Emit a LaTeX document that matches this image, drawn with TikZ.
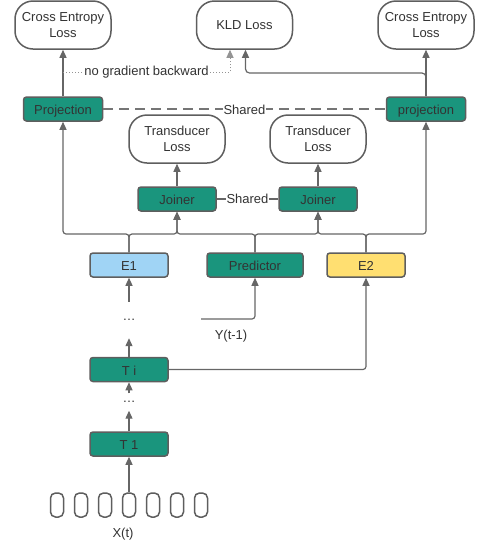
\documentclass[tikz,border=0pt]{standalone}
\usepackage{fontspec}
\setmainfont{Liberation Sans}
\usetikzlibrary{arrows.meta,calc}
\definecolor{teal1}{HTML}{1A957D}
\definecolor{bord}{HTML}{5E5E5E}
\definecolor{txt}{HTML}{333333}
\definecolor{lineg}{HTML}{666666}
\definecolor{e1blue}{HTML}{A0D4F5}
\definecolor{e2yel}{HTML}{FFDF71}
\tikzset{
  every node/.style={font=\fontsize{13}{16}\selectfont, text=txt},
  loss/.style={draw=bord, line width=1.5pt, fill=white, rounded corners=18pt, minimum width=96pt, minimum height=48pt, align=center, inner sep=0pt},
  gbox/.style={draw=bord, line width=1.5pt, fill=teal1, rounded corners=3pt, minimum width=78pt, minimum height=24pt, inner sep=0pt, text height=11.5pt, text depth=0pt},
  inbox/.style={draw=bord, line width=1.5pt, rounded corners=5pt, minimum width=13pt, minimum height=24pt, inner sep=0pt},
  dotsnode/.style={inner sep=0pt, minimum width=14pt},
  conn/.style={draw=lineg, line width=1.2pt},
  arr/.style={conn, -{Triangle[length=8pt,width=7pt]}},
  dotl/.style={draw=lineg!70, line width=1pt, dotted, -{Triangle[length=8pt,width=7pt]}},
  dashl/.style={draw=lineg!90, line width=1.5pt, dash pattern=on 10pt off 6pt},
  lbl/.style={fill=white, inner sep=1pt},
  plain/.style={inner sep=0pt},
}
\begin{document}
\begin{tikzpicture}[x=1pt,y=-1pt]
\useasboundingbox (0,0) rectangle (481,547);
% losses
\node[loss] (ce1) at (63,25) {Cross Entropy\\Loss};
\node[loss] (kld) at (244.5,25) {KLD Loss};
\node[loss] (ce2) at (426,25) {Cross Entropy\\Loss};
% projections
\node[gbox, minimum width=79pt] (proj1) at (63,109) {Projection};
\node[gbox, minimum width=79pt] (proj2) at (426,109) {projection};
% transducer losses
\node[loss] (tl1) at (177,139) {Transducer\\Loss};
\node[loss] (tl2) at (318,139) {Transducer\\Loss};
% joiners
\node[gbox] (j1) at (177,199) {Joiner};
\node[gbox] (j2) at (318,199) {Joiner};
% encoders / predictor
\node[gbox, fill=e1blue] (e1) at (129,265) {E1};
\node[gbox, minimum width=96pt] (pred) at (255,265) {Predictor};
\node[gbox, fill=e2yel] (e2) at (366,265) {E2};
% dots and layers
\node[dotsnode, minimum height=36pt] (d1) at (129,320) {…};
\node[gbox] (ti) at (129,369.5) {T i};
\node[dotsnode, minimum height=17pt] (d2) at (129,402) {…};
\node[gbox] (t1) at (129,444) {T 1};
% inputs
\foreach \i in {0,...,6} {
  \node[inbox] (x\i) at (57+24*\i,505) {};
}
\node[plain] (xlab) at (123,534) {X(t)};
\node[plain] (ylab) at (231,336) {Y(t-1)};
\coordinate (ystart) at (201,319);

% connectors top
\draw[arr] (proj1.north) -- (ce1.south);
\draw[arr] (proj2.north) -- (ce2.south);
\draw[arr, rounded corners=4pt] (proj2.north) -- (proj2.north |- 0,73) -| ([xshift=1pt]kld.south);
\coordinate (ng) at (230,72);
\draw[dotl] (proj1.north |- ng) -- node[lbl]{no gradient backward} (ng) -- (ng |- kld.south);
\draw[dashl] (proj1.east) -- node[lbl, yshift=-1pt]{Shared} (proj2.west);

% joiners
\draw[arr] (j1.north) -- (tl1.south);
\draw[arr] (j2.north) -- (tl2.south);
\draw[conn] (j1.east) -- node[lbl]{Shared} (j2.west);

% bus
\draw[arr, rounded corners=3pt] (e1.north) -- (e1.north |- 0,234) -| (proj1.south);
\draw[arr, rounded corners=3pt] (e1.north) -- (e1.north |- 0,234) -| (j1.south);
\draw[arr, rounded corners=3pt] (pred.north) -- (pred.north |- 0,234) -| (j1.south);
\draw[arr, rounded corners=3pt] (pred.north) -- (pred.north |- 0,234) -| (j2.south);
\draw[arr, rounded corners=3pt] (e2.north) -- (e2.north |- 0,234) -| (j2.south);
\draw[arr, rounded corners=3pt] (e2.north) -- (e2.north |- 0,234) -| (proj2.south);

% lower stack
\draw[arr] (d1.north) -- (e1.south);
\draw[arr] (ti.north) -- (d1.south);
\draw[arr] (d2.north) -- (ti.south);
\draw[arr] (t1.north) -- (d2.south);
\draw[arr] (x3.north) -- (t1.south);
\draw[arr, rounded corners=3pt] (ystart) -| (pred.south);
\draw[arr, rounded corners=3pt] (ti.east) -| (e2.south);
\end{tikzpicture}
\end{document}
